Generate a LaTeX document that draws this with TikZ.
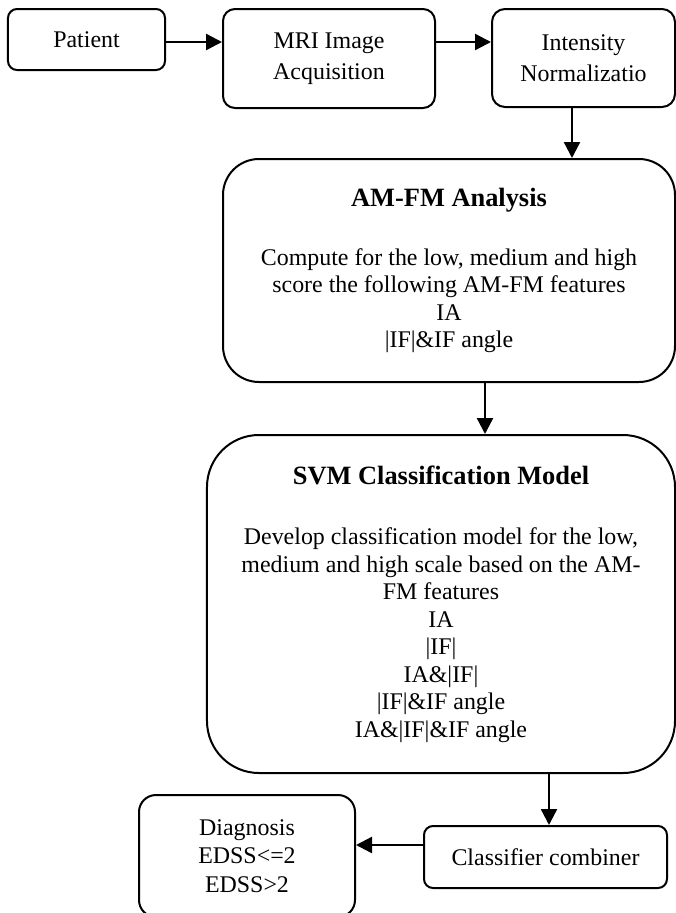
\documentclass[tikz,border=0pt]{standalone}
\usepackage{fontspec}
\setmainfont{Liberation Serif}
\usetikzlibrary{arrows.meta}
\begin{document}
\begin{tikzpicture}[x=1bp,y=-1bp,
  box/.style={draw, line width=2bp, align=center, inner sep=0pt,
    font=\fontsize{24}{27.6}\selectfont},
  arr/.style={line width=2.4bp, -{Triangle[length=16bp,width=16bp]}}]
\useasboundingbox (0,0) rectangle (676,913);

% process boxes
\node[box, rounded corners=9bp, minimum width=157bp, minimum height=61bp]
  (pat) at (86.5,39.5) {Patient};
\node[box, rounded corners=12bp, minimum width=212bp, minimum height=99bp,
  font=\fontsize{24}{31.5}\selectfont]
  (mri) at (329,58.5) {MRI Image\\Acquisition};
\node[box, rounded corners=13bp, minimum width=183bp, minimum height=98bp,
  font=\fontsize{24}{31.5}\selectfont]
  (int) at (583.5,58) {Intensity\\Normalizatio};
\node[box, rounded corners=36bp, minimum width=452bp, minimum height=223bp]
  (amfm) at (449,270.5)
  {{\bfseries\fontsize{26.5}{27.6}\selectfont AM-FM Analysis}\\[31bp]
   Compute for the low, medium and high\\
   score the following AM-FM features\\
   IA\\
   |IF|\&IF angle};
\node[box, rounded corners=52bp, minimum width=468bp, minimum height=338bp]
  (svm) at (441,604)
  {{\bfseries\fontsize{26.5}{27.6}\selectfont SVM Classification Model}\\[33bp]
   Develop classification model for the low,\\
   medium and high scale based on the AM-\\
   FM features\\
   IA\\
   |IF|\\
   IA\&|IF|\\
   |IF|\&IF angle\\
   IA\&|IF|\&IF angle};
\node[box, rounded corners=9bp, minimum width=243bp, minimum height=62bp]
  (cls) at (545.5,857) {Classifier combiner};
\node[box, rounded corners=17bp, minimum width=216bp, minimum height=122bp,
  font=\fontsize{24}{28.8}\selectfont]
  (diag) at (247,856) {Diagnosis\\EDSS<=2\\EDSS>2};

% connector levels
\coordinate (lvl) at (0,42);
\coordinate (c1) at (572,0);
\coordinate (c2) at (485,0);
\coordinate (c3) at (549,0);
\coordinate (c4) at (0,845);

% connectors
\draw[arr] (pat.east |- lvl) -- (mri.west |- lvl);
\draw[arr] (mri.east |- lvl) -- (int.west |- lvl);
\draw[arr] (int.south -| c1) -- (amfm.north -| c1);
\draw[arr] (amfm.south -| c2) -- (svm.north -| c2);
\draw[arr] (svm.south -| c3) -- (cls.north -| c3);
\draw[arr] (cls.west |- c4) -- (diag.east |- c4);
\end{tikzpicture}
\end{document}
